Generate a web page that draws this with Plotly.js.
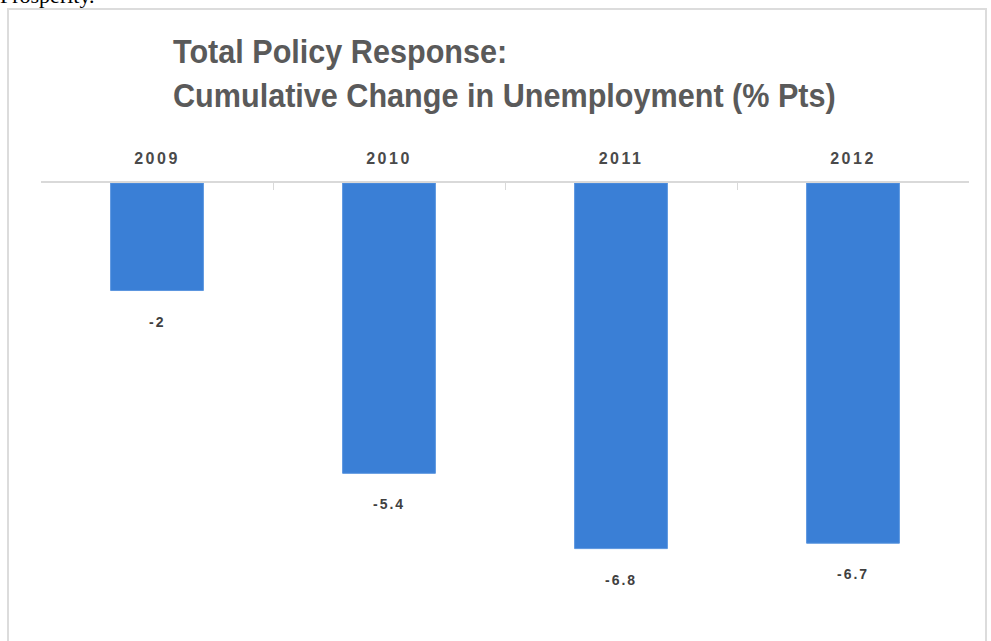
<!DOCTYPE html>
<html>
<head>
<meta charset="utf-8">
<script src="https://cdn.plot.ly/plotly-3.0.1.min.js"></script>
<style>
html,body{margin:0;padding:0;background:#fff;overflow:hidden;}
#pre{position:absolute;left:0;top:-17px;font-family:"Liberation Serif","DejaVu Serif",serif;font-size:22px;color:#000;}
#box{position:absolute;left:7px;top:8px;width:980px;height:700px;border:2px solid #dcdcdc;box-sizing:border-box;}
#chart{position:absolute;left:0;top:0;width:991px;height:641px;}
#chart .xtick text{letter-spacing:2.5px;}
#chart .annotation-text{letter-spacing:2px;}
</style>
</head>
<body>
<div id="pre">Prosperity.</div>
<div id="box"></div>
<div id="chart"></div>
<script>
const years = ["2009", "2010", "2011", "2012"];
const changes = [-2, -5.4, -6.8, -6.7];
const labels = ["-2", "-5.4", "-6.8", "-6.7"];

const trace = {
  type: "bar",
  x: years,
  y: changes,
  marker: {color: "#3a7fd6", line: {color: "#5b96df", width: 1}},
  width: 0.4,
  hoverinfo: "none"
};

const annotations = years.map((yr, i) => ({
  x: i, y: changes[i], xref: "x", yref: "y",
  text: labels[i], showarrow: false,
  yanchor: "middle", yshift: -31,
  font: {family: "Liberation Sans, Arial, sans-serif", size: 14, color: "#404040", weight: "bold"}
}));

const layout = {
  width: 991, height: 641,
  paper_bgcolor: "rgba(0,0,0,0)",
  plot_bgcolor: "rgba(0,0,0,0)",
  margin: {l: 41, r: 22, t: 183, b: 1},
  showlegend: false,
  title: {
    text: "Total Policy Response:<br>Cumulative Change in Unemployment (% Pts)",
    x: 173/991, xanchor: "left", xref: "container",
    y: 1 - 63/641, yanchor: "top", yref: "container",
    font: {family: "Liberation Sans, Arial, sans-serif", size: 34, color: "#5a5a5a", weight: "bold"}
  },
  annotations: annotations,
  xaxis: {
    side: "top",
    type: "category",
    range: [-0.5, 3.5],
    tickangle: 0,
    showline: true, linecolor: "#d9d9d9", linewidth: 2,
    ticks: "inside", tickson: "boundaries", ticklen: 7, tickcolor: "#d9d9d9", tickwidth: 1,
    ticklabelstandoff: 11,
    tickfont: {family: "Liberation Sans, Arial, sans-serif", size: 16, color: "#4a4a4a", weight: "bold"},
    showgrid: false, zeroline: false,
    fixedrange: true
  },
  yaxis: {
    range: [-8.5, 0],
    visible: false,
    showgrid: false, zeroline: false,
    fixedrange: true
  },
  bargap: 0.6
};

Plotly.newPlot("chart", [trace], layout, {displayModeBar: false, staticPlot: true}).then(gd => {
  const t = gd.querySelector(".gtitle");
  if (t) {
    const x0 = 173;
    t.setAttribute("transform", `translate(${x0},0) scale(0.9,1) translate(${-x0},0)`);
  }
});
</script>
</body>
</html>
